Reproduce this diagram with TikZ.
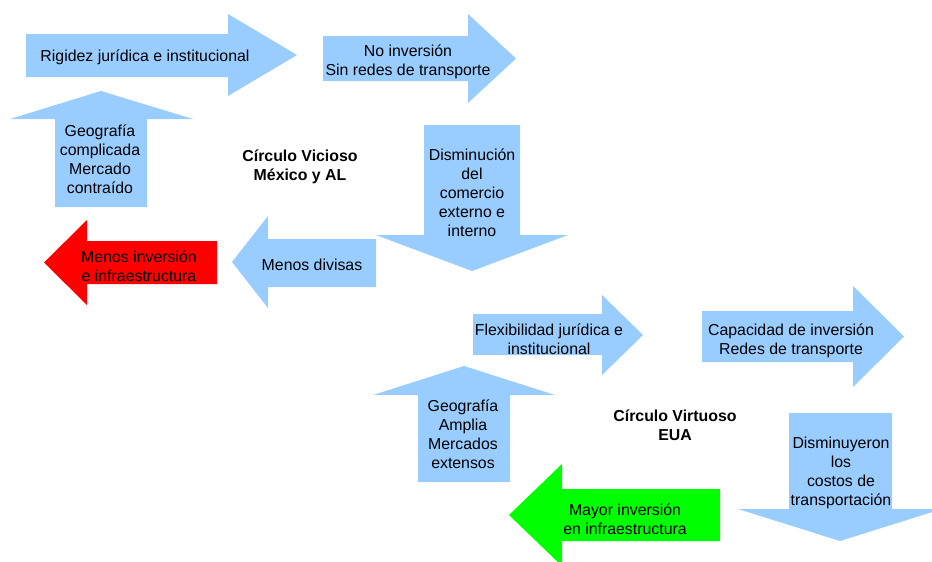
\documentclass[tikz,border=0pt]{standalone}
\usepackage{fontspec}
\setmainfont{Liberation Sans}
\usepackage{tikz}

\begin{document}
\begin{tikzpicture}[x=0.75pt,y=0.75pt,yscale=-1,xscale=1,
  lblue/.style={draw=none, fill={rgb, 255:red, 153; green, 204; blue, 255 }},
  lred/.style={draw=none, fill={rgb, 255:red, 255; green, 0; blue, 0 }},
  lgreen/.style={draw=none, fill={rgb, 255:red, 0; green, 255; blue, 0 }},
  lbl/.style={inner sep=0pt, align=center, font=\fontsize{11.9}{14.3}\selectfont},
  ttl/.style={lbl, font=\fontsize{11.9}{14.3}\selectfont\bfseries}]
\clip (0,0) rectangle (932,561);

%Right Arrow
\draw [lblue] (26,34) -- (228,34) -- (228,14) -- (297,55) -- (228,96) -- (228,77) -- (26,77) -- cycle ;
%Right Arrow
\draw [lblue] (323,36) -- (468,36) -- (468,14) -- (516,58.5) -- (468,103) -- (468,81) -- (323,81) -- cycle ;
%Up Arrow
\draw [lblue] (55,207) -- (55,119) -- (10,119) -- (101,91) -- (193,119) -- (147,119) -- (147,207) -- cycle ;
%Down Arrow
\draw [lblue] (424,125) -- (520,125) -- (520,235) -- (568,235) -- (472,271) -- (376,235) -- (424,235) -- cycle ;
%Left Arrow
\draw [lblue] (376,239) -- (268,239) -- (268,216) -- (232,262) -- (268,308) -- (268,287) -- (376,287) -- cycle ;
%Left Arrow
\draw [lred] (217,241) -- (87,241) -- (87,220) -- (44,262.5) -- (87,305) -- (87,284) -- (217,284) -- cycle ;

%Right Arrow
\draw [lblue] (473,314) -- (602,314) -- (602,295) -- (643,335) -- (602,375) -- (602,355) -- (473,355) -- cycle ;
%Right Arrow
\draw [lblue] (702,311) -- (853,311) -- (853,286) -- (904,336.5) -- (853,387) -- (853,362) -- (702,362) -- cycle ;
%Up Arrow
\draw [lblue] (418,482) -- (418,395) -- (373,395) -- (464,366) -- (555,395) -- (510,395) -- (510,482) -- cycle ;
%Down Arrow
\draw [lblue] (789,413) -- (892,413) -- (892,509) -- (942,509) -- (840,541) -- (738,509) -- (789,509) -- cycle ;
%Left Arrow
\draw [lgreen] (720,489) -- (562,489) -- (562,464) -- (509,515) -- (562,566) -- (562,541) -- (720,541) -- cycle ;

% Text Node
\draw (145,57) node (rigidez) [lbl] {Rigidez jurídica e institucional};
% Text Node
\draw (408,62) node (noInv) [lbl] {No inversión\\Sin redes de transporte};
% Text Node
\draw (100,159) node (geoComp) [lbl] {Geografía\\complicada\\Mercado\\contraído};
% Text Node
\draw (300,167) node (vicioso) [ttl] {Círculo Vicioso\\México y AL};
% Text Node
\draw (472,193) node (disminucion) [lbl] {Disminución\\del\\comercio\\externo e\\interno};
% Text Node
\draw (312,265) node (divisas) [lbl] {Menos divisas};
% Text Node
\draw (139,266) node (menosInv) [lbl] {Menos inversión\\e infraestructura};

% Text Node
\draw (549,339) node (flexib) [lbl] {Flexibilidad jurídica e\\institucional};
% Text Node
\draw (791,341) node (capacidad) [lbl] {Capacidad de inversión\\Redes de transporte};
% Text Node
\draw (463,434) node (geoAmplia) [lbl] {Geografía\\Amplia\\Mercados\\extensos};
% Text Node
\draw (675,425) node (virtuoso) [ttl] {Círculo Virtuoso\\EUA};
% Text Node
\draw (841,473) node (disminuyeron) [lbl] {Disminuyeron\\los\\costos de\\transportación};
% Text Node
\draw (625,519) node (mayorInv) [lbl] {Mayor inversión\\en infraestructura};

\end{tikzpicture}
\end{document}
